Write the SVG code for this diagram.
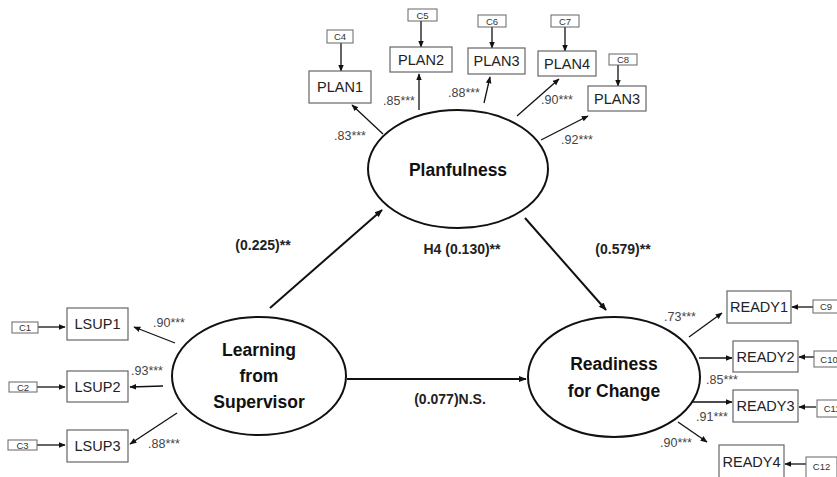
<svg xmlns="http://www.w3.org/2000/svg" width="837" height="477" viewBox="0 0 837 477">
<defs>
<marker id="ah" viewBox="0 0 10 10" refX="9" refY="5" markerWidth="7" markerHeight="7" markerUnits="userSpaceOnUse" orient="auto">
<path d="M0,1 L10,5 L0,9 Z" fill="#111"/>
</marker>
<marker id="ahb" viewBox="0 0 10 10" refX="9" refY="5" markerWidth="8" markerHeight="8" markerUnits="userSpaceOnUse" orient="auto">
<path d="M0,1 L10,5 L0,9 Z" fill="#111"/>
</marker>
</defs>
<style>
.lat{fill:#fff;stroke:#111;stroke-width:2}
.box{fill:#fff;stroke:#666;stroke-width:1.2}
.ebox{fill:#fff;stroke:#666;stroke-width:1}
.lt{font-family:"Liberation Sans",Arial,sans-serif;font-weight:bold;font-size:17.5px;fill:#111;text-anchor:middle}
.bt{font-family:"Liberation Sans",Arial,sans-serif;font-size:14.5px;fill:#222;text-anchor:middle}
.et{font-family:"Liberation Sans",Arial,sans-serif;font-size:9.5px;fill:#333;text-anchor:middle}
.ld{font-family:"Liberation Sans",Arial,sans-serif;font-size:12.5px;fill:#444;text-anchor:middle}
.pt{font-family:"Liberation Sans",Arial,sans-serif;font-weight:bold;font-size:14px;fill:#222;text-anchor:middle}
.ln{stroke:#111;stroke-width:1.3;fill:none;marker-end:url(#ah)}
.sp{stroke:#111;stroke-width:2;fill:none;marker-end:url(#ahb)}
</style>
<rect width="837" height="477" fill="#fff"/>

<g id="connectors">
<line class="sp" x1="270" y1="308" x2="382" y2="210"/>
<line class="sp" x1="525" y1="218" x2="606" y2="310"/>
<line class="sp" x1="347" y1="379" x2="526" y2="379"/>
<line class="ln" x1="383" y1="134" x2="352" y2="105"/>
<line class="ln" x1="419" y1="110" x2="419" y2="74"/>
<line class="ln" x1="484" y1="103" x2="490" y2="77"/>
<line class="ln" x1="517" y1="116" x2="559" y2="79"/>
<line class="ln" x1="541" y1="140" x2="588" y2="116"/>
<line class="ln" x1="341" y1="43" x2="341" y2="71"/>
<line class="ln" x1="421" y1="21" x2="421" y2="47"/>
<line class="ln" x1="492" y1="27" x2="492" y2="48"/>
<line class="ln" x1="565" y1="27" x2="565" y2="51"/>
<line class="ln" x1="618" y1="65" x2="618" y2="86"/>
<line class="ln" x1="175" y1="343" x2="134" y2="327"/>
<line class="ln" x1="163" y1="386" x2="130" y2="387"/>
<line class="ln" x1="177" y1="413" x2="130" y2="444"/>
<line class="ln" x1="38" y1="327" x2="65" y2="327"/>
<line class="ln" x1="37" y1="387" x2="65" y2="387"/>
<line class="ln" x1="37" y1="445" x2="65" y2="445"/>
<line class="ln" x1="689" y1="337" x2="722" y2="313"/>
<line class="ln" x1="699" y1="358" x2="732" y2="358"/>
<line class="ln" x1="692" y1="402" x2="732" y2="402"/>
<line class="ln" x1="678" y1="422" x2="707" y2="442"/>
<line class="ln" x1="813" y1="307" x2="792" y2="307"/>
<line class="ln" x1="814" y1="357" x2="799" y2="357"/>
<line class="ln" x1="816" y1="407" x2="799" y2="407"/>
<line class="ln" x1="806" y1="464" x2="785" y2="464"/>
</g>

<g id="planfulness">
<ellipse class="lat" cx="458" cy="169" rx="90" ry="59"/>
<text class="lt" x="458" y="176">Planfulness</text>
</g>
<g id="learning">
<ellipse class="lat" cx="259" cy="376" rx="87" ry="59"/>
<text class="lt" x="259" y="356">Learning</text>
<text class="lt" x="259" y="382">from</text>
<text class="lt" x="259" y="408">Supervisor</text>
</g>
<g id="readiness">
<ellipse class="lat" cx="614" cy="377" rx="86" ry="60"/>
<text class="lt" x="614" y="370">Readiness</text>
<text class="lt" x="614" y="397">for Change</text>
</g>

<g id="plan1"><rect class="box" x="309" y="71" width="62" height="32"/><text class="bt" x="340" y="92">PLAN1</text></g>
<g id="plan2"><rect class="box" x="390" y="47" width="62" height="25"/><text class="bt" x="421" y="64.5">PLAN2</text></g>
<g id="plan3"><rect class="box" x="468" y="48" width="57" height="26"/><text class="bt" x="496.5" y="66">PLAN3</text></g>
<g id="plan4"><rect class="box" x="538" y="51" width="58" height="25"/><text class="bt" x="567" y="68.5">PLAN4</text></g>
<g id="plan3b"><rect class="box" x="588" y="86" width="58" height="25"/><text class="bt" x="617" y="103.5">PLAN3</text></g>

<g id="c4"><rect class="ebox" x="327" y="30" width="26" height="13"/><text class="et" x="340" y="40">C4</text></g>
<g id="c5"><rect class="ebox" x="408" y="9" width="29" height="12"/><text class="et" x="422.5" y="18.5">C5</text></g>
<g id="c6"><rect class="ebox" x="478" y="15" width="28" height="12"/><text class="et" x="492" y="24.5">C6</text></g>
<g id="c7"><rect class="ebox" x="551" y="15" width="28" height="12"/><text class="et" x="565" y="24.5">C7</text></g>
<g id="c8"><rect class="ebox" x="609" y="54" width="28" height="11"/><text class="et" x="623" y="63">C8</text></g>

<g id="lsup1"><rect class="box" x="67" y="308" width="61" height="32"/><text class="bt" x="97.5" y="329">LSUP1</text></g>
<g id="lsup2"><rect class="box" x="67" y="371" width="61" height="31"/><text class="bt" x="97.5" y="391.5">LSUP2</text></g>
<g id="lsup3"><rect class="box" x="67" y="430" width="61" height="32"/><text class="bt" x="97.5" y="451">LSUP3</text></g>
<g id="c1"><rect class="ebox" x="12" y="322" width="26" height="11"/><text class="et" x="25" y="331">C1</text></g>
<g id="c2"><rect class="ebox" x="9" y="382" width="28" height="10"/><text class="et" x="23" y="390.5">C2</text></g>
<g id="c3"><rect class="ebox" x="8" y="440" width="29" height="10"/><text class="et" x="22.5" y="448.5">C3</text></g>

<g id="ready1"><rect class="box" x="727" y="291" width="64" height="32"/><text class="bt" x="759" y="312">READY1</text></g>
<g id="ready2"><rect class="box" x="733" y="341" width="65" height="31"/><text class="bt" x="765.5" y="361.5">READY2</text></g>
<g id="ready3"><rect class="box" x="733" y="390" width="65" height="32"/><text class="bt" x="765.5" y="411">READY3</text></g>
<g id="ready4"><rect class="box" x="719" y="445" width="65" height="34"/><text class="bt" x="751.5" y="467">READY4</text></g>
<g id="c9"><rect class="ebox" x="813" y="300" width="28" height="13"/><text class="et" x="826" y="310">C9</text></g>
<g id="c10"><rect class="ebox" x="814" y="351" width="28" height="16"/><text class="et" x="829" y="362.5">C10</text></g>
<g id="c11"><rect class="ebox" x="817" y="400" width="28" height="17"/><text class="et" x="832" y="412">C11</text></g>
<g id="c12"><rect class="ebox" x="806" y="457" width="31" height="21"/><text class="et" x="821.5" y="470">C12</text></g>

<g id="labels">
<text class="ld" x="350" y="140">.83***</text>
<text class="ld" x="399" y="105">.85***</text>
<text class="ld" x="464" y="97">.88***</text>
<text class="ld" x="557" y="104">.90***</text>
<text class="ld" x="577" y="144">.92***</text>
<text class="ld" x="169" y="327">.90***</text>
<text class="ld" x="147" y="375">.93***</text>
<text class="ld" x="164" y="448">.88***</text>
<text class="ld" x="680" y="321">.73***</text>
<text class="ld" x="722" y="384">.85***</text>
<text class="ld" x="712" y="421">.91***</text>
<text class="ld" x="676" y="447">.90***</text>
<text class="pt" x="263" y="250">(0.225)**</text>
<text class="pt" x="462" y="254">H4 (0.130)**</text>
<text class="pt" x="623" y="254">(0.579)**</text>
<text class="pt" x="450" y="404">(0.077)N.S.</text>
</g>
</svg>
